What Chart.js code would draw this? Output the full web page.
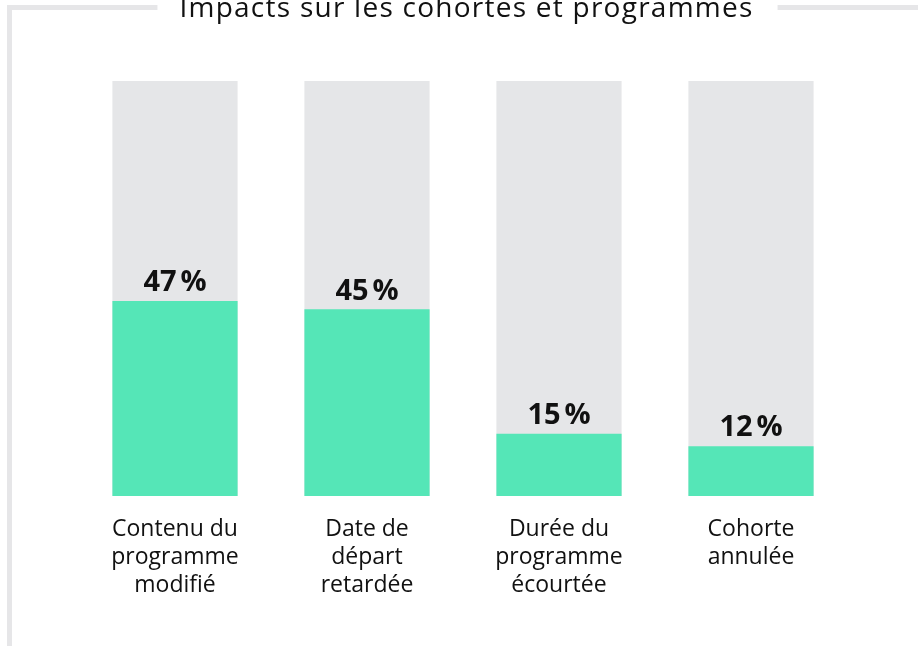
<!DOCTYPE html>
<html lang="fr">
<head>
<meta charset="utf-8">
<title>Impacts sur les cohortes et programmes</title>
<script src="https://cdn.jsdelivr.net/npm/chart.js@4.4.1/dist/chart.umd.min.js"></script>
<style>
  html, body { margin: 0; padding: 0; background: #ffffff; }
  #wrap { position: relative; width: 918px; height: 646px; }
</style>
</head>
<body>
<div id="wrap"><canvas id="chart"></canvas></div>
<script>
const chartTitle = "Impacts sur les cohortes et programmes";
const categories = [
  ["Contenu du", "programme", "modifié"],
  ["Date de", "départ", "retardée"],
  ["Durée du", "programme", "écourtée"],
  ["Cohorte", "annulée"]
];
const impactValues = [47, 45, 15, 12];
const trackValues = [100, 100, 100, 100];
const valueLabels = ["47\u202F%", "45\u202F%", "15\u202F%", "12\u202F%"];

const GREEN = "#55e6b7";
const TRACK = "#e5e6e8";
const FRAME = "#e6e6e8";
const INK = "#111111";
const FONT = "'Open Sans', 'Noto Sans', sans-serif";

const framePlugin = {
  id: "frameTitle",
  beforeDraw(chart) {
    const ctx = chart.ctx;
    ctx.save();
    ctx.font = "28px " + FONT;
    const target = 573;
    const plain = ctx.measureText(chartTitle).width;
    const gaps = chartTitle.length - 1;
    const ls = Math.max(0, (target - plain) / gaps);
    ctx.letterSpacing = ls.toFixed(2) + "px";
    const w = ctx.measureText(chartTitle).width;
    const cx = 466.5;
    const x0 = cx - w / 2;
    const x1 = cx + w / 2;
    // frame
    ctx.fillStyle = FRAME;
    ctx.fillRect(7, 5, 5, chart.height - 5);
    ctx.fillRect(7, 5, x0 - 22 - 7, 5);
    ctx.fillRect(x1 + 24, 5, chart.width - (x1 + 24), 5);
    // title
    ctx.fillStyle = INK;
    ctx.textAlign = "left";
    ctx.textBaseline = "alphabetic";
    ctx.fillText(chartTitle, x0, 17);
    ctx.restore();
  }
};

const valuePlugin = {
  id: "valueLabels",
  afterDatasetsDraw(chart) {
    const ctx = chart.ctx;
    const meta = chart.getDatasetMeta(0);
    ctx.save();
    ctx.font = "bold 29px " + FONT;
    ctx.fillStyle = INK;
    ctx.textAlign = "center";
    ctx.textBaseline = "middle";
    meta.data.forEach((bar, i) => {
      ctx.fillText(valueLabels[i], bar.x, bar.y - 18);
    });
    ctx.restore();
  }
};

new Chart(document.getElementById("chart"), {
  type: "bar",
  data: {
    labels: categories,
    datasets: [
      {
        label: "Impact",
        data: impactValues,
        backgroundColor: GREEN,
        grouped: false,
        barPercentage: 0.652,
        categoryPercentage: 1
      },
      {
        label: "Total",
        data: trackValues,
        backgroundColor: TRACK,
        grouped: false,
        barPercentage: 0.652,
        categoryPercentage: 1
      }
    ]
  },
  options: {
    responsive: true,
    maintainAspectRatio: false,
    animation: false,
    events: [],
    layout: { padding: { left: 79, right: 71, top: 81, bottom: 0 } },
    plugins: {
      legend: { display: false },
      tooltip: { enabled: false },
      title: { display: false }
    },
    scales: {
      y: { display: false, min: 0, max: 100 },
      x: {
        grid: { display: false },
        border: { display: false },
        ticks: {
          color: INK,
          font: { family: FONT, size: 23, lineHeight: 1.2 },
          padding: 12,
          maxRotation: 0,
          autoSkip: false
        },
        afterFit(scale) { scale.height = 150; }
      }
    }
  },
  plugins: [framePlugin, valuePlugin]
});
</script>
</body>
</html>
